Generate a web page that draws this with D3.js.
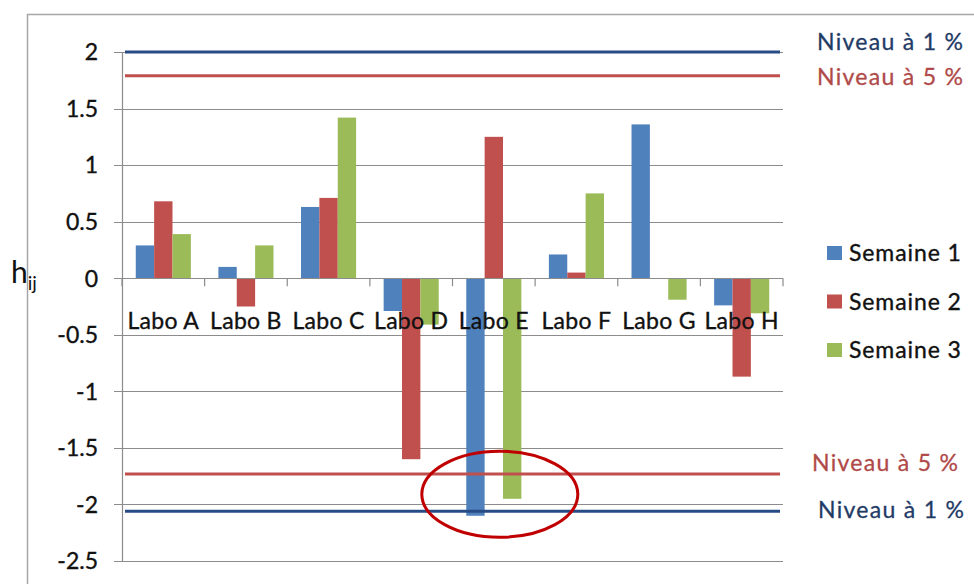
<!DOCTYPE html>
<html>
<head>
<meta charset="utf-8">
<script src="https://cdn.jsdelivr.net/npm/d3@7"></script>
<style>
  html, body { margin: 0; padding: 0; background: #fff; }
  svg { display: block; }
  text { font-family: Lato, "Open Sans", sans-serif; }
</style>
</head>
<body>
<svg id="chart" width="974" height="584"></svg>
<script>
// ---- data ----
const labos = ["Labo A", "Labo B", "Labo C", "Labo D", "Labo E", "Labo F", "Labo G", "Labo H"];
const seriesNames = ["Semaine 1", "Semaine 2", "Semaine 3"];
const semaine1 = [0.29, 0.10, 0.63, -0.29, -2.10, 0.21, 1.36, -0.24];
const semaine2 = [0.68, -0.25, 0.71, -1.60, 1.25, 0.05, 0.00, -0.87];
const semaine3 = [0.39, 0.29, 1.42, -0.41, -1.95, 0.75, -0.19, -0.31];
const yTicks = [2, 1.5, 1, 0.5, 0, -0.5, -1, -1.5, -2, -2.5];
const yTickLabels = ["2", "1.5", "1", "0.5", "0", "-0.5", "-1", "-1.5", "-2", "-2.5"];
const thresholdValues = [2.0, 1.79, -1.73, -2.06];
const thresholdLabels = ["Niveau à 1 %", "Niveau à 5 %", "Niveau à 5 %", "Niveau à 1 %"];
const thresholdKinds = ["1", "5", "5", "1"];

// ---- styles ----
const seriesColors = ["#4f81bd", "#c0504d", "#9bbb59"];
const lineColor = { "1": "#274b85", "5": "#c0504d" };
const textColor = { "1": "#1f3b66", "5": "#b04a49" };
const labelOffset = [-10, 1, -11, -2];
const labelX = [817, 817, 812, 818];

const svg = d3.select("#chart");
const plot = { left: 122, right: 783, top: 52, bottom: 561 };

const x = d3.scaleBand().domain(labos).range([plot.left, plot.right]).paddingInner(0).paddingOuter(0);
const bw = x.bandwidth();
const xs = d3.scaleBand().domain(seriesNames).range([bw / 6, bw * 5 / 6]);
const y = d3.scaleLinear().domain([-2.5, 2]).range([plot.bottom, plot.top]);

// outer chart border (cropped)
svg.append("path")
  .attr("d", `M27.5,584 V14.5 H974`)
  .attr("fill", "none").attr("stroke", "#a6a6a6").attr("stroke-width", 1.5);

// gridlines
svg.append("g").selectAll("line").data(yTicks).join("line")
  .attr("x1", plot.left - 8).attr("x2", plot.right)
  .attr("y1", d => Math.round(y(d)) + 0.5).attr("y2", d => Math.round(y(d)) + 0.5)
  .attr("stroke", "#8c8c8c").attr("stroke-width", 1.2);

// y axis line
svg.append("line")
  .attr("x1", plot.left + 0.5).attr("x2", plot.left + 0.5)
  .attr("y1", y(2)).attr("y2", y(-2.5))
  .attr("stroke", "#8c8c8c").attr("stroke-width", 1.2);

// y tick labels
svg.append("g").selectAll("text").data(yTicks).join("text")
  .attr("x", 98).attr("y", d => y(d))
  .attr("dy", "0.36em")
  .attr("text-anchor", "end")
  .attr("font-size", 23)
  .attr("fill", "#111").attr("stroke", "#111").attr("stroke-width", 0.35)
  .text((d, i) => yTickLabels[i]);

// bars
const allSeries = [semaine1, semaine2, semaine3];
const barData = [];
labos.forEach((lab, i) => {
  seriesNames.forEach((s, j) => {
    barData.push({ lab, s, v: allSeries[j][i], c: seriesColors[j] });
  });
});
svg.append("g").selectAll("rect").data(barData.filter(d => d.v !== 0)).join("rect")
  .attr("x", d => x(d.lab) + xs(d.s))
  .attr("width", xs.bandwidth())
  .attr("y", d => Math.min(y(d.v), y(0)))
  .attr("height", d => Math.abs(y(d.v) - y(0)))
  .attr("fill", d => d.c);

// category axis (zero line) and ticks
svg.append("line")
  .attr("x1", plot.left).attr("x2", plot.right)
  .attr("y1", Math.round(y(0)) + 0.5).attr("y2", Math.round(y(0)) + 0.5)
  .attr("stroke", "#8c8c8c").attr("stroke-width", 1.2);
const bounds = labos.map(l => x(l)).concat([plot.right]);
svg.append("g").selectAll("line").data(bounds).join("line")
  .attr("x1", d => d).attr("x2", d => d)
  .attr("y1", y(0)).attr("y2", y(0) + 8)
  .attr("stroke", "#8c8c8c").attr("stroke-width", 1.2);

// threshold lines
svg.append("g").selectAll("line").data(thresholdValues).join("line")
  .attr("x1", plot.left + 3).attr("x2", plot.right - 3)
  .attr("y1", d => y(d)).attr("y2", d => y(d))
  .attr("stroke", (d, i) => lineColor[thresholdKinds[i]])
  .attr("stroke-width", 3);

// category labels
svg.append("g").selectAll("text").data(labos).join("text")
  .attr("x", d => x(d) + bw / 2).attr("y", 329)
  .attr("text-anchor", "middle")
  .attr("font-size", 23)
  .attr("letter-spacing", 0.3)
  .attr("fill", "#111").attr("stroke", "#111").attr("stroke-width", 0.35)
  .text(d => d);

// threshold labels
svg.append("g").selectAll("text").data(thresholdValues).join("text")
  .attr("x", (d, i) => labelX[i])
  .attr("y", (d, i) => y(d) + labelOffset[i])
  .attr("dy", "0.36em")
  .attr("font-size", 23)
  .attr("letter-spacing", 1.3)
  .attr("fill", (d, i) => textColor[thresholdKinds[i]])
  .attr("stroke", (d, i) => textColor[thresholdKinds[i]]).attr("stroke-width", 0.3)
  .text((d, i) => thresholdLabels[i]);

// legend
const leg = svg.append("g").selectAll("g").data(seriesNames).join("g")
  .attr("transform", (d, i) => `translate(827, ${253 + i * 48.5})`);
leg.append("rect").attr("x", 0).attr("y", -7).attr("width", 15).attr("height", 14)
  .attr("fill", (d, i) => seriesColors[i]);
leg.append("text").attr("x", 22).attr("y", 0).attr("dy", "0.36em")
  .attr("font-size", 23).attr("letter-spacing", 0.9)
  .attr("fill", "#111").attr("stroke", "#111").attr("stroke-width", 0.35)
  .text(d => d);

// h_ij axis title
const ht = svg.append("text").attr("x", 11).attr("y", 283)
  .attr("font-family", "'Liberation Sans', Arial, sans-serif")
  .attr("font-size", 30).attr("fill", "#111");
ht.append("tspan").text("h");
ht.append("tspan").attr("font-size", 19).attr("dy", 7).text("ij");

// highlight ellipse around Labo E
svg.append("ellipse")
  .attr("cx", x("Labo E") + bw / 2 + 6)
  .attr("cy", y(-1.91))
  .attr("rx", 78).attr("ry", 43)
  .attr("fill", "none").attr("stroke", "#c00000").attr("stroke-width", 3);
</script>
</body>
</html>
